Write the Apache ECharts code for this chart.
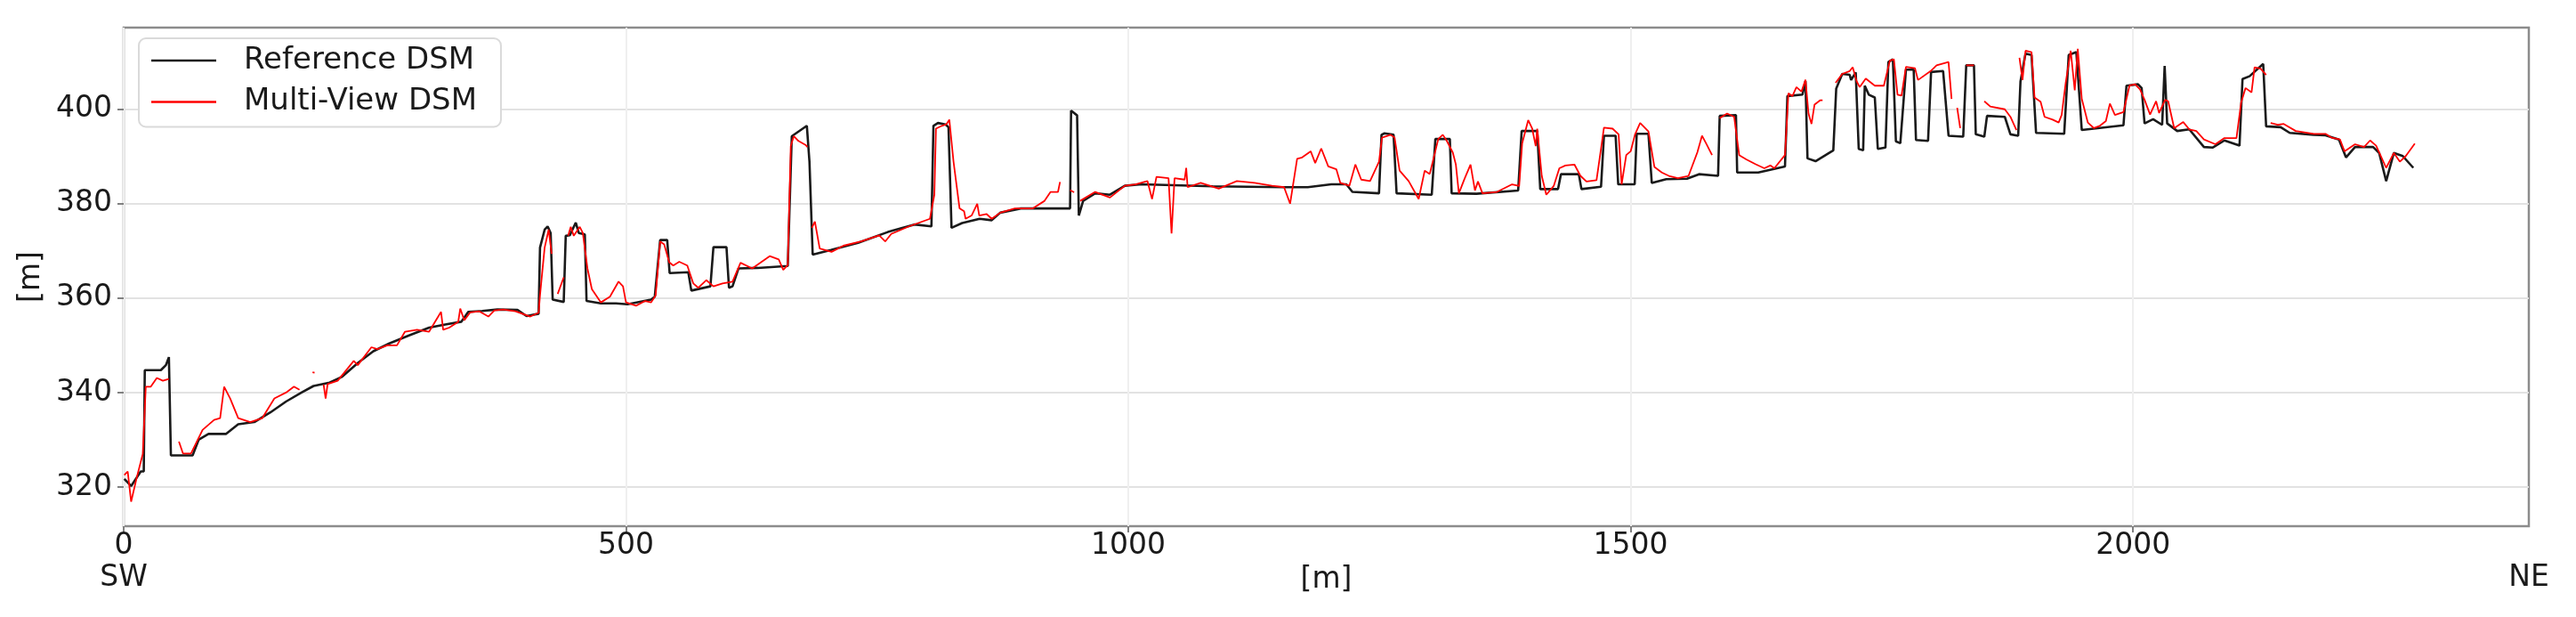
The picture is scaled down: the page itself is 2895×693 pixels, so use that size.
<!DOCTYPE html>
<html>
<head>
<meta charset="utf-8">
<script src="https://cdn.jsdelivr.net/npm/echarts@6/dist/echarts.min.js"></script>
<style>
html,body{margin:0;padding:0;background:#fff;}
#chart{width:2895px;height:693px;}
</style>
</head>
<body>
<div id="chart"></div>
<script>
// ---- data (distance along profile [m], elevation [m]) ----
var refDist = [0.6,7.4,17,20,21,37,42,45,47,68.6,74.6,84.4,102,114,130,146,161.6,177,189,205,217,233,248.5,264.4,284,304,320,336,343,357,372,392,401,413,414.4,419,422,425,427,438,440,444,450,453,459,460.7,475,490,501.5,525,528.6,534,541,543.4,562,565,584,587,600,602.5,606,612,631,661,665,680,682.6,685.8,704,731,760.6,787,804,806,810.5,818,821,824,834.6,852,864,872.5,893,942,943,949,950.7,955,967,981.7,996.5,1013,1084,1155,1178.6,1202,1217,1223,1249.5,1252,1255,1264,1267,1302,1305.6,1320,1321.8,1346.5,1388,1391.5,1407,1410,1427.7,1430.6,1448.4,1451,1470.5,1473.4,1485,1487.6,1504,1506,1517.7,1521,1535.4,1556,1568,1587,1588.6,1604.8,1606,1627,1653.6,1656,1671,1674,1676,1684,1701.7,1704.6,1710.6,1718,1719.4,1724,1727,1731.4,1733,1737,1743,1746,1753.6,1756.5,1761,1764,1768.4,1774,1781.7,1784,1796,1799,1811,1816.4,1831,1834,1841.7,1843.5,1852,1854.7,1872.4,1878,1885.7,1888,1893,1899,1903.5,1931.5,1936,1943.6,1949,1990.5,1993.5,2005,2008.6,2011.5,2020,2029,2031.5,2034,2044,2056,2070.6,2079.5,2091,2106,2109,2116,2129.6,2132.5,2147,2156,2180,2191.6,2205,2212,2221,2239,2245,2252,2259.6,2268.5,2279];
var refElev = [321.7,320.2,323.3,323.3,344.75,344.75,345.8,347.5,326.7,326.7,330,331.25,331.25,333.3,333.75,335.8,338.1,340,341.4,342.1,343.3,346.25,348.75,350.4,352.1,353.75,354.4,355,357.1,357.3,357.6,357.5,356.2,356.7,370.7,374.5,375.2,373.8,359.7,359.2,373.2,373.3,376,373.8,373.5,359.4,358.9,358.9,358.7,359.7,360.3,372.3,372.3,365.3,365.5,361.6,362.5,370.8,370.8,362.2,362.5,366.3,366.4,366.8,394.3,396.5,388.9,369.2,370.2,371.7,374,375.6,375.2,396.5,397.1,396.8,396.2,374.9,375.9,376.8,376.5,378.1,379,379,399.7,398.7,377.5,380.6,382.2,381.9,383.8,384.1,383.7,383.5,383.5,384.1,384.1,382.5,382.2,394.6,394.9,394.6,382.2,381.9,393.7,393.7,382.2,382.1,382.8,395.4,395.4,383.1,383.1,386.25,386.25,383.1,383.6,394.4,394.4,384.1,384.1,394.8,394.8,384.4,385.2,385.3,386.25,385.9,398.6,398.75,386.6,386.6,387.9,402.8,403.1,406,389.6,389,391.3,404.4,407.5,407.3,406.2,407.8,391.6,391.3,405,403.1,402.5,391.6,391.9,410,410.6,393.2,392.8,408.4,408.4,393.5,393.3,407.9,408.1,394.4,394.2,409.3,409.3,394.7,394.2,398.6,398.4,394.7,394.4,405.9,411.8,411.5,395,394.8,411.5,412.1,395.6,396.6,405,405.3,404.5,397,397.9,396.7,409.2,397,395.4,395.75,392,391.9,393.4,392.3,406.4,407,409.6,396.4,396.2,395,394.6,394.5,393.6,389.8,392,392,390.75,384.8,390.75,390.1,387.6];

var mvDist = [0.6,4,7.4,13,19,22,27,33,39,45,50,55,59,67,78.5,90,96,100,106,114,126,138,150,161.6,169.5,175,181,188,190,195,199,201,203,213,229,233,246.6,252.5,262.4,272,280,292,304,315.9,318,324,333,335,339,345,354,363,369,378,390,404.7,413,414.4,419,423,426,429,432,438,440,442.4,445,448,454,457,461.6,466,475,484,492.6,497,500,510,519,525,529.5,534,538,543,547,553,561,567,572,580,587,596,606,614,625.6,643,652,656.5,661,664,667,671.6,679,680.5,683,685,688,692.8,704.6,716.4,734,752,758,764,781.7,802.5,806.9,808.5,814.4,818.8,821.8,826,832,836.5,838,844,849.6,851.6,859,864,872.5,887,905,916.6,922.6,930,932,937,942,946,949,952,967,981.7,996.5,1007,1019,1023.6,1028,1040,1043,1046,1056,1057.6,1059,1072,1090,1108,1125.6,1143,1155,1161,1168,1173,1181.5,1186,1192,1199,1207,1211,1220,1226,1231.8,1240.6,1249.5,1252.5,1261,1265,1270,1279,1289,1295,1300,1308.5,1313,1317,1323,1326,1329,1334.7,1340.6,1345,1348,1352.5,1367,1382,1389,1392,1398,1402,1405.5,1407,1411.5,1416,1423.4,1429,1435,1444,1450,1456,1466,1470,1473.4,1482,1488,1491,1495.6,1500,1504.4,1509.4,1517.7,1523.6,1531,1538,1547,1557.6,1562,1566.4,1571,1575,1581,1585,1588.6,1596,1603,1608,1615,1624,1633,1639,1643,1653.6,1657,1661,1665,1670,1674,1677,1680,1683,1688.5,1691,1698,1704,1710.6,1718,1721,1725,1728,1734,1743,1752,1758,1762,1765.6,1769.6,1774,1783,1786,1798.6,1804.5,1816.4,1819.4,1822,1825,1828,1831,1834,1841.7,1847,1852,1858,1872.4,1878,1884,1886,1887,1890,1893,1899,1902,1908,1912,1920,1926,1929,1933,1938,1942,1945,1949,1955,1961,1967,1973,1977,1982,1990.5,1996.5,2002,2007,2011.5,2017,2023,2026,2032,2035,2041,2050,2056,2063,2070.6,2082,2091,2103,2107.6,2112,2118,2121,2127,2132.5,2135,2137,2144,2150,2162,2180,2191.6,2197.6,2206,2210.5,2221,2230,2236,2242,2252,2259.6,2265.6,2271.5,2280.5];
var mvElev = [322.5,323.3,316.9,322,327,341.25,341.25,343.1,342.5,342.9,null,329.6,327.1,327.1,332.1,334.2,334.6,341.25,338.75,334.6,333.75,334.6,338.75,340,341.25,340.6,null,344.3,344.2,null,341.7,338.75,341.8,342.5,346.7,345.8,349.6,349.2,350,350,352.9,353.3,352.9,357.1,353.3,353.75,355,357.8,355.3,357,357.2,356.1,357.4,357.6,357.2,356.1,356.9,360.6,370.7,374.5,369.4,null,360.9,364.4,null,373.2,375.1,373.2,375.1,373.8,366.3,361.9,359.1,360.3,363.5,362.5,359.1,358.4,359.4,359.1,360.6,372,371.4,367.6,366.9,367.7,366.9,363.1,362.2,363.8,362.5,363.1,363.5,367.5,366.3,368.9,368.2,366,367,392.2,394.3,393.3,392.4,392,null,374.9,376.2,370.5,369.8,371.1,372,373.3,372,373.6,375.2,376.8,381.9,395.9,396.5,396.8,397.8,388.9,379,378.4,376.8,377.5,380,377.5,377.8,376.8,378.1,379,379,380.6,382.5,382.5,384.6,null,382.9,382.4,null,380.6,382.5,381.3,383.8,384.1,384.8,381,385.7,385.4,373.7,385.4,385.1,387.6,383.5,384.4,383.2,384.8,384.4,383.8,383.5,380,389.5,389.8,391.1,388.6,391.7,387.9,387.3,384.4,383.8,388.3,385.1,384.8,388.9,394,394.6,394,387,384.8,381,387,386.3,393.7,394.6,393.3,390.8,388.3,382.2,385.3,388.3,382.8,384.7,382.2,382.5,384.1,383.75,392.8,397.7,395.9,392.2,395.9,385.9,381.9,383.75,387.5,388.1,388.3,385.9,384.7,385,390.9,396.1,395.9,394.7,384.1,390.3,391.1,394.7,397.1,395.3,387.8,386.6,385.9,385.4,385.9,388.4,390.9,394.4,392.8,390.3,null,398.1,399.1,398.4,390.3,389.4,388.4,387.5,388.1,387.5,390.3,403.4,402.8,404.7,403.75,406.25,399.1,396.9,401,401.9,401.9,null,405.6,407.5,408.1,408.9,405.9,404.7,406.5,405,405,410.3,410.6,403.1,402.9,409,408.7,406.2,408.1,409.3,410,402.2,null,400.3,396,null,409.3,409.3,null,401.7,400.6,400,398.4,395.6,null,410.9,406.2,412.4,412.1,402.5,401.6,398.4,397.8,397.2,398.8,405.6,412.4,404,412.8,402.2,397.2,396,396.5,397.5,401.2,398.8,399.4,405,405.3,404.2,402,398.9,401.7,399.2,402,401.7,396,397.3,395.75,395.4,393.6,392.6,393.9,393.9,401.4,404.5,403.6,408.9,408.6,407.3,null,397.1,396.7,396.9,395.4,394.8,394.8,394,393.6,391.1,392.6,392,393.4,392.3,387.6,390.75,388.9,390.1,392.75];

var xTicks = [0, 500, 1000, 1500, 2000];
var yTicks = [320, 340, 360, 380, 400];
var xRange = [0, 2394];
var yRange = [311.7, 417.3];
var endLabels = ['SW', 'NE'];
var seriesNames = ['Reference DSM', 'Multi-View DSM'];

function zip(xs, ys) {
  var out = [];
  for (var i = 0; i < xs.length; i++) {
    out.push(ys[i] === null ? [xs[i], '-'] : [xs[i], ys[i]]);
  }
  return out;
}
function plain(v) { return String(v); }

var FONT = 'DejaVu Sans';
var TXT = '#1a1a1a';
var chart = echarts.init(document.getElementById('chart'), null, {renderer: 'canvas'});
chart.setOption({
  animation: false,
  backgroundColor: '#ffffff',
  textStyle: {fontFamily: FONT},
  grid: {
    left: 139, right: 53, top: 31, bottom: 102,
    show: true, borderColor: '#8c8c8c', borderWidth: 2.5, backgroundColor: 'transparent'
  },
  legend: {
    orient: 'vertical',
    left: 156, top: 43,
    padding: [8, 27, 11, 14],
    itemWidth: 73, itemHeight: 2.5, itemGap: 12.5,
    backgroundColor: '#ffffff',
    borderColor: '#dadada', borderWidth: 2, borderRadius: 8,
    textStyle: {fontFamily: FONT, fontSize: 34, color: TXT, padding: [0, 0, 0, 26]},
    data: [{name: seriesNames[0], icon: 'rect'}, {name: seriesNames[1], icon: 'rect'}]
  },
  xAxis: [{
    type: 'value', min: xRange[0], max: xRange[1], interval: 500,
    name: '[m]', nameLocation: 'middle', nameGap: 42,
    nameTextStyle: {fontFamily: FONT, fontSize: 33, color: TXT},
    axisLine: {show: false},
    axisTick: {show: true, length: 7, lineStyle: {color: '#808080', width: 2}, customValues: xTicks},
    axisLabel: {fontFamily: FONT, fontSize: 33, color: TXT, margin: 6, customValues: xTicks, formatter: plain},
    splitLine: {show: true, lineStyle: {color: '#efefef', width: 2}}
  }, {
    type: 'value', position: 'bottom', min: xRange[0], max: xRange[1],
    axisLine: {show: false}, axisTick: {show: false}, splitLine: {show: false},
    axisLabel: {
      fontFamily: FONT, fontSize: 33, color: TXT, margin: 42,
      customValues: xRange,
      formatter: function (v) { return v === xRange[0] ? endLabels[0] : endLabels[1]; }
    }
  }],
  yAxis: {
    type: 'value', min: yRange[0], max: yRange[1], minInterval: 20, maxInterval: 20,
    name: '[m]', nameLocation: 'middle', nameGap: 83,
    nameTextStyle: {fontFamily: FONT, fontSize: 33, color: TXT},
    axisLine: {show: false},
    axisTick: {show: true, length: 7, lineStyle: {color: '#808080', width: 2}, customValues: yTicks},
    axisLabel: {fontFamily: FONT, fontSize: 33, color: TXT, margin: 13, customValues: yTicks, formatter: plain},
    splitLine: {show: true, lineStyle: {color: '#e2e2e2', width: 2}}
  },
  series: [{
    name: seriesNames[0], type: 'line', xAxisIndex: 0, symbol: 'none',
    lineStyle: {color: '#1a1a1a', width: 2.6}, itemStyle: {color: '#1a1a1a'},
    data: zip(refDist, refElev), z: 2
  }, {
    name: seriesNames[1], type: 'line', xAxisIndex: 0, symbol: 'none', connectNulls: false,
    lineStyle: {color: '#ff0000', width: 1.8}, itemStyle: {color: '#ff0000'},
    data: zip(mvDist, mvElev), z: 3
  }]
});
</script>
</body>
</html>
